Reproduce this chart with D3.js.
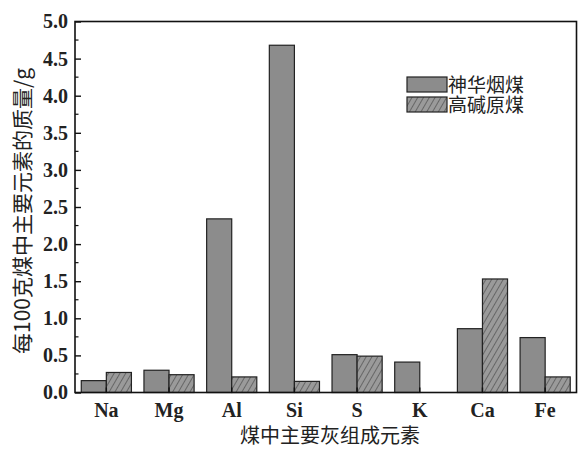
<!DOCTYPE html>
<html><head><meta charset="utf-8">
<script src="https://cdn.jsdelivr.net/npm/d3@7"></script>
<style>body{margin:0;background:#fff}</style>
</head><body>
<svg id="c" width="579" height="450"></svg>
<script>
const categories = ["Na","Mg","Al","Si","S","K","Ca","Fe"];
const seriesNames = ["神华烟煤","高碱原煤"];
const shenhua = [0.16,0.30,2.34,4.68,0.51,0.41,0.86,0.74];
const gaojian = [0.27,0.24,0.21,0.15,0.49,0.00,1.53,0.21];
const yTicks = [0,0.5,1,1.5,2,2.5,3,3.5,4,4.5,5];
const yLabel = "每100克煤中主要元素的质量/g";
const xLabel = "煤中主要灰组成元素";

const svg = d3.select("#c");
const L=75, R=576.5, T=21.5, B=392.5;
const x = d3.scaleBand().domain(categories).range([L,R]).paddingInner(0.2).paddingOuter(0.1);
const x1 = d3.scaleBand().domain(seriesNames).range([0,x.bandwidth()]);
const y = d3.scaleLinear().domain([0,5]).range([B,T]);

const defs = svg.append("defs");
const pat = defs.append("pattern").attr("id","hatch").attr("patternUnits","userSpaceOnUse")
  .attr("width",5).attr("height",5).attr("patternTransform","rotate(30)");
pat.append("rect").attr("width",5).attr("height",5).attr("fill","#9a9a9a");
pat.append("line").attr("x1",0).attr("y1",0).attr("x2",0).attr("y2",5).attr("stroke","#333").attr("stroke-width",1);

const fills = ["#8c8c8c","url(#hatch)"];
const data = [shenhua, gaojian];
data.forEach((arr,si)=>{
  svg.append("g").selectAll("rect").data(arr).join("rect")
    .attr("x",(d,i)=>x(categories[i])+x1(seriesNames[si]))
    .attr("width",x1.bandwidth())
    .attr("y",d=>y(d))
    .attr("height",d=>B-y(d))
    .attr("fill",fills[si])
    .attr("stroke",d=>d>0?"#222":"none").attr("stroke-width",1.2);
});

// frame
svg.append("rect").attr("x",L).attr("y",T).attr("width",R-L).attr("height",B-T)
  .attr("fill","none").attr("stroke","#111").attr("stroke-width",1.6);

// y axis with inward ticks
const yAxis = d3.axisLeft(y).tickValues(yTicks).tickFormat(d3.format(".1f")).tickSizeInner(-6).tickSizeOuter(0).tickPadding(7);
const gy = svg.append("g").attr("transform",`translate(${L},0)`).call(yAxis);
gy.select(".domain").remove();
gy.selectAll("line").attr("stroke","#111").attr("stroke-width",1.4);
gy.selectAll("text").attr("font-family","Liberation Serif").attr("font-size",20).attr("font-weight","bold").attr("fill","#222");
const minor = d3.range(0.25,5,0.5);
svg.append("g").selectAll("line").data(minor).join("line")
  .attr("x1",L).attr("x2",L+3.5).attr("y1",d=>y(d)).attr("y2",d=>y(d)).attr("stroke","#111").attr("stroke-width",1.2);

// x axis
const xAxis = d3.axisBottom(x).tickSizeInner(-5).tickSizeOuter(0).tickPadding(10);
const gx = svg.append("g").attr("transform",`translate(0,${B})`).call(xAxis);
gx.select(".domain").remove();
gx.selectAll("line").attr("stroke","#111").attr("stroke-width",1.4);
gx.selectAll("text").attr("font-family","Liberation Serif").attr("font-size",20).attr("font-weight","bold").attr("fill","#222");

// axis titles
svg.append("text").attr("x",330).attr("y",443).attr("text-anchor","middle")
  .attr("font-family","Noto Sans CJK SC").attr("font-size",20).attr("fill","#222").text(xLabel);
svg.append("text").attr("transform","translate(30,211) rotate(-90)").attr("text-anchor","middle")
  .attr("font-family","Noto Sans CJK SC").attr("font-size",21).attr("fill","#222").text(yLabel);

// legend
const lg = svg.append("g");
seriesNames.forEach((n,i)=>{
  lg.append("rect").attr("x",407).attr("y",77+i*20).attr("width",40).attr("height",15)
    .attr("fill",fills[i]).attr("stroke","#222").attr("stroke-width",1.2);
  lg.append("text").attr("x",448).attr("y",92+i*20).attr("font-family","Noto Sans CJK SC")
    .attr("font-size",19).attr("fill","#222").text(n);
});
</script>
</body></html>
